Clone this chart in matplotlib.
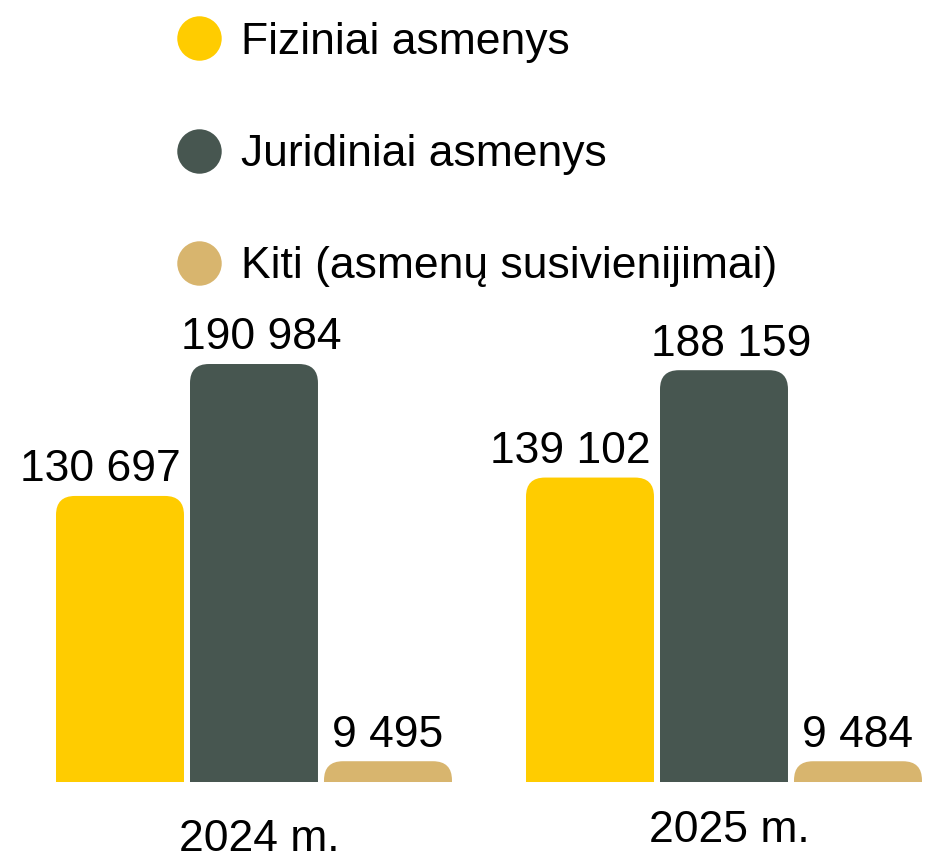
import matplotlib
matplotlib.use("Agg")
import matplotlib.pyplot as plt
from matplotlib.lines import Line2D
from matplotlib.patches import PathPatch
from matplotlib.path import Path

plt.rcParams['font.family'] = ['Liberation Sans', 'DejaVu Sans']

# data
years = ["2024 m.", "2025 m."]
series = ["Fiziniai asmenys", "Juridiniai asmenys", "Kiti (asmenų susivienijimai)"]
fiziniai = [130697, 139102]
juridiniai = [190984, 188159]
kiti = [9495, 9484]
labels_2024 = ["130 697", "190 984", "9 495"]
labels_2025 = ["139 102", "188 159", "9 484"]
colors = ["#FFCC00", "#475650", "#D8B56E"]

fig = plt.figure(figsize=(9.26, 8.59), dpi=100)
ax = fig.add_axes([0, 0, 1, 1])
ax.set_xlim(-0.5404, 1.4298)
ax.set_ylim(-35180, 357300)
ax.axis("off")

width = 0.2723
step = 0.2851
# px -> data conversion for rounded corners
xu = 1 / 470.0
yu = 456.9
radius_px = 19
# small horizontal shift of value labels per series (points)
label_dx = [-14, 5, 0]


def top_rounded(x0, w, h):
    rx = radius_px * xu
    ry = min(radius_px * yu, h)
    verts = [(x0, 0), (x0, h - ry), (x0, h), (x0 + rx, h),
             (x0 + w - rx, h), (x0 + w, h), (x0 + w, h - ry),
             (x0 + w, 0), (x0, 0)]
    codes = [Path.MOVETO, Path.LINETO, Path.CURVE3, Path.CURVE3,
             Path.LINETO, Path.CURVE3, Path.CURVE3,
             Path.LINETO, Path.CLOSEPOLY]
    return Path(verts, codes)


values = [fiziniai, juridiniai, kiti]
labels = [labels_2024, labels_2025]
for i, (vals, col) in enumerate(zip(values, colors)):
    xs = [g + (i - 1) * step for g in range(len(years))]
    bars = ax.bar(xs, vals, width=width, color=col)
    for j, b in enumerate(bars):
        b.set_visible(False)
        p = PathPatch(top_rounded(b.get_x(), b.get_width(), b.get_height()),
                      facecolor=col, edgecolor="none")
        ax.add_patch(p)
        ax.annotate(labels[j][i], (b.get_x() + b.get_width() / 2, b.get_height()),
                    xytext=(label_dx[i], 4), textcoords="offset points",
                    ha="center", va="bottom", fontsize=32, color="black")

# year labels (slightly different heights as in the original)
year_y = [851, 842]
for g, (yr, ypx) in enumerate(zip(years, year_y)):
    ax.text(g + 0.012, 1 - ypx / 859, yr, transform=ax.get_xaxis_transform(),
            ha="center", va="baseline", fontsize=32, color="black")

handles = [Line2D([], [], marker="o", linestyle="none", markersize=32,
                  markerfacecolor=c, markeredgecolor="none") for c in colors]
fig.legend(handles, series, loc="upper left",
           bbox_to_anchor=(177 / 926, 1 - 22 / 859), frameon=False,
           fontsize=32, borderpad=0, borderaxespad=0, handlelength=1.0,
           handletextpad=0.45, labelspacing=1.6)

fig.savefig("out.png", dpi=100)
